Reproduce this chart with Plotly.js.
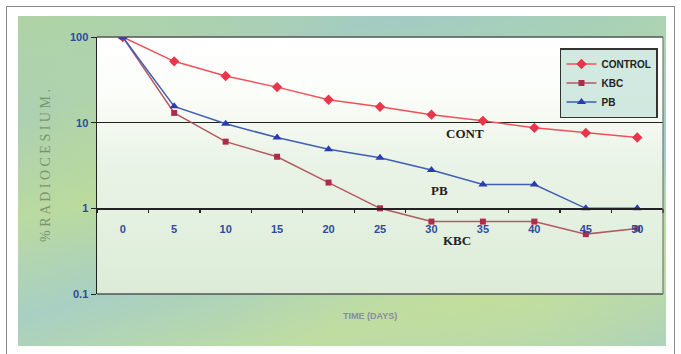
<!DOCTYPE html>
<html>
<head>
<meta charset="utf-8">
<script src="https://cdn.plot.ly/plotly-3.0.1.min.js"></script>
<style>
  html, body { margin:0; padding:0; background:#ffffff; }
  #wrap { position:relative; width:681px; height:354px; overflow:hidden; background:#ffffff; }
  #frame { position:absolute; left:6px; top:6px; width:669px; height:360px; border:1.5px solid #8a8a8a; box-sizing:border-box; }
  #panel { position:absolute; left:18px; top:16px; width:648px; height:330px;
    background:
      radial-gradient(ellipse at 20% 30%, rgba(190,220,140,0.55), rgba(190,220,140,0) 45%),
      radial-gradient(ellipse at 75% 85%, rgba(200,225,150,0.55), rgba(200,225,150,0) 40%),
      radial-gradient(ellipse at 90% 20%, rgba(150,200,200,0.5), rgba(150,200,200,0) 40%),
      linear-gradient(165deg, #add2a8 0%, #a3cbc5 20%, #b9daa2 40%, #a8cfc3 60%, #bddca3 80%, #a8cfc3 100%);
  }
  #plotbg { position:absolute; left:97px; top:37px; width:566px; height:257px;
    background: linear-gradient(to bottom, #ffffff 0%, #fbfdf9 22%, #e9f3e6 50%, #e3f0df 75%, #dcebd8 100%); }
  #chart { position:absolute; left:0; top:0; width:681px; height:354px; }
</style>
</head>
<body>
<div id="wrap">
  <div id="frame"></div>
  <div id="panel"></div>
  <div id="plotbg"></div>
  <div id="chart"></div>
</div>
<script>
// Data
const days = [0, 5, 10, 15, 20, 25, 30, 35, 40, 45, 50];
const tickLabels = ["0", "5", "10", "15", "20", "25", "30", "35", "40", "45", "50"];
const control = [100, 52, 35, 26, 18.5, 15.3, 12.4, 10.5, 8.7, 7.6, 6.7];
const kbc = [100, 13, 6, 4, 2, 1.0, 0.7, 0.7, 0.7, 0.5, 0.58];
const pb = [100, 15.5, 9.7, 6.7, 4.9, 3.9, 2.8, 1.9, 1.9, 1.0, 1.0];
const seriesNames = ["CONTROL", "KBC", "PB"];
const yTickVals = [0.1, 1, 10, 100];
const yTickText = ["0.1", "1", "10", "100"];
const betweenTicks = [-2.5, 2.5, 7.5, 12.5, 17.5, 22.5, 27.5, 32.5, 37.5, 42.5, 47.5, 52.5];

const traces = [
  { x: days, y: control, name: seriesNames[0], type: 'scatter', mode: 'lines+markers',
    line: { color: '#f0505a', width: 1.5 },
    marker: { symbol: 'diamond', size: 8, color: '#e8364a' } },
  { x: days, y: kbc, name: seriesNames[1], type: 'scatter', mode: 'lines+markers',
    line: { color: '#b25a62', width: 1.5 },
    marker: { symbol: 'square', size: 6, color: '#b02a4a' } },
  { x: days, y: pb, name: seriesNames[2], type: 'scatter', mode: 'lines+markers',
    line: { color: '#3f5db5', width: 1.5 },
    marker: { symbol: 'triangle-up', size: 8, color: '#2a3cb0' } },
  { x: betweenTicks, y: betweenTicks.map(() => 1), xaxis: 'x2', yaxis: 'y', type: 'scatter',
    mode: 'none', showlegend: false, hoverinfo: 'skip' }
];

const tickFont = { family: 'Arial, Liberation Sans, sans-serif', size: 11, color: '#2c4c9c', weight: 'bold' };

const layout = {
  width: 681, height: 354,
  margin: { l: 97, r: 18, t: 37, b: 60 },
  paper_bgcolor: 'rgba(0,0,0,0)',
  plot_bgcolor: 'rgba(0,0,0,0)',
  showlegend: true,
  legend: {
    x: 0.818, y: 0.957, xanchor: 'left', yanchor: 'top',
    bgcolor: 'rgba(195,225,215,0.75)', bordercolor: '#333333', borderwidth: 1.5,
    font: { family: 'Arial, Liberation Sans, sans-serif', size: 10, color: '#222222', weight: 'bold' },
    tracegroupgap: 0, itemwidth: 30
  },
  xaxis: {
    range: [-2.5, 52.5], anchor: 'free', position: 1/3,
    tickvals: days, ticktext: tickLabels,
    ticks: 'outside', ticklen: 10, tickcolor: 'rgba(0,0,0,0)',
    showgrid: false, zeroline: false, showline: true, linecolor: '#222222', linewidth: 1.5,
    tickfont: tickFont
  },
  xaxis2: {
    range: [-2.5, 52.5], overlaying: 'x', anchor: 'free', position: 1/3,
    tickvals: betweenTicks, ticks: 'outside', ticklen: 4, tickcolor: '#222222', tickwidth: 1.2,
    showticklabels: false, showgrid: false, zeroline: false, showline: false
  },
  yaxis: {
    type: 'log', range: [-1, 2],
    tickvals: yTickVals, ticktext: yTickText,
    ticks: 'outside', ticklen: 5, tickcolor: '#222222',
    showgrid: true, gridcolor: '#222222', gridwidth: 1.3,
    showline: true, linecolor: '#222222', linewidth: 1.5,
    zeroline: false, tickfont: tickFont,
    title: { text: '% R A D I O C E S I U M .', standoff: 16,
      font: { family: 'Times New Roman, Liberation Serif, serif', size: 14, color: '#7e9470' } }
  },
  shapes: [
    { type: 'line', xref: 'paper', yref: 'paper', x0: 0, x1: 1, y0: 1, y1: 1, line: { color: '#555555', width: 1.5 } },
    { type: 'line', xref: 'paper', yref: 'paper', x0: 0, x1: 1, y0: 0, y1: 0, line: { color: '#555555', width: 1.5 } },
    { type: 'line', xref: 'paper', yref: 'paper', x0: 1, x1: 1, y0: 0, y1: 1, line: { color: '#777777', width: 1.2 } }
  ],
  annotations: [
    { text: 'CONT', x: 33.3, y: 0.868, xref: 'x', yref: 'y', showarrow: false,
      font: { family: 'Times New Roman, Liberation Serif, serif', size: 13, color: '#222222', weight: 'bold' } },
    { text: 'PB', x: 30.8, y: 0.203, xref: 'x', yref: 'y', showarrow: false,
      font: { family: 'Times New Roman, Liberation Serif, serif', size: 13, color: '#222222', weight: 'bold' } },
    { text: 'KBC', x: 32.5, y: -0.38, xref: 'x', yref: 'y', showarrow: false,
      font: { family: 'Times New Roman, Liberation Serif, serif', size: 13, color: '#222222', weight: 'bold' } },
    { text: 'TIME (DAYS)', x: 0.482, y: -0.086, xref: 'paper', yref: 'paper', showarrow: false,
      xanchor: 'center', yanchor: 'middle',
      font: { family: 'Arial, Liberation Sans, sans-serif', size: 9, color: '#8a8c9c', weight: 'bold' } }
  ]
};

Plotly.newPlot('chart', traces, layout, { displayModeBar: false, staticPlot: true });
</script>
</body>
</html>
